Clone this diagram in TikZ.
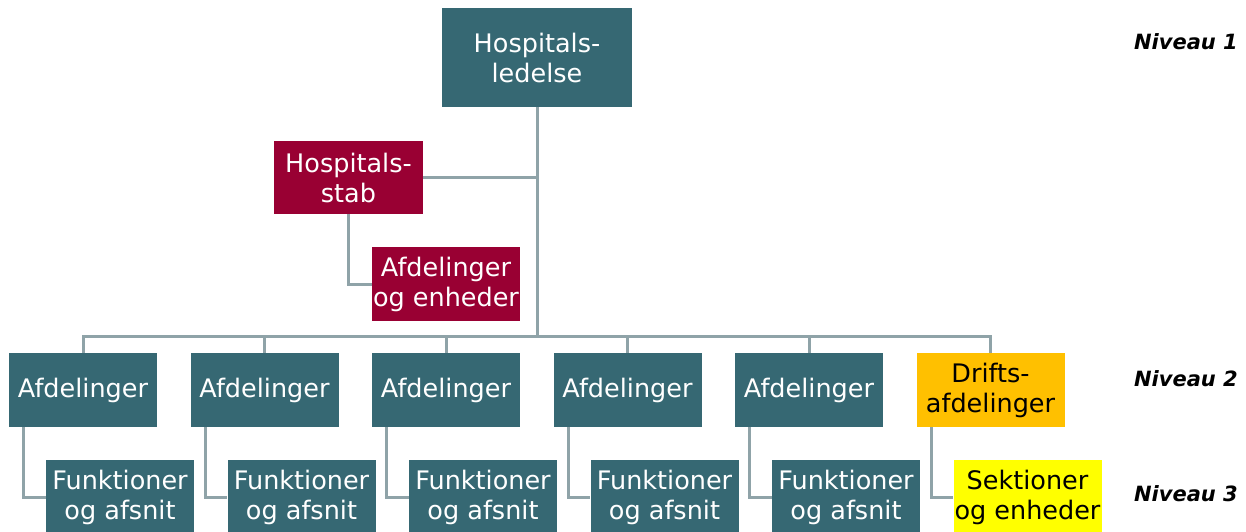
\documentclass[tikz,border=0pt]{standalone}
\usepackage{fontspec}
\setmainfont{DejaVu Sans}
\usetikzlibrary{positioning}
\definecolor{hosteal}{RGB}{54,104,115}
\definecolor{hosred}{RGB}{153,0,51}
\definecolor{hosorange}{RGB}{255,192,0}
\definecolor{hosyellow}{RGB}{255,255,0}
\definecolor{hosline}{RGB}{143,163,168}

\begin{document}
\begin{tikzpicture}[x=1pt,y=-1pt,
        box/.style={rectangle, minimum width=148pt, minimum height=74pt,
            inner sep=0pt, align=center, font=\fontsize{25.5}{30}\selectfont},
        tealbox/.style={box, fill=hosteal, text=white},
        redbox/.style={box, fill=hosred, text=white},
        orangebox/.style={box, fill=hosorange, text=black},
        yellowbox/.style={box, fill=hosyellow, text=black},
        link/.style={draw=hosline, line width=3pt},
        niveau/.style={anchor=east, inner sep=0pt, font=\fontsize{21}{25}\selectfont\bfseries\itshape}]
    \useasboundingbox (0,0) rectangle (1246,531);
    % top
    \node[tealbox, minimum width=190pt, minimum height=99pt] (ledelse) at (537,57.5) {Hospitals-\\ledelse};
    \node[redbox, minimum width=149pt, minimum height=73pt] (stab) at (348.5,177.5) {Hospitals-\\stab};
    \node[redbox] (stabafd) at (446,284) {Afdelinger\\og enheder};
    \coordinate (bus) at (537,336);
    \draw[link] (ledelse.south) -- (bus);
    \draw[link] (stab.east) -- (stab.east -| ledelse.south);
    \draw[link] (stab.south) |- (stabafd.west);
    % niveau 2 and 3
    \foreach \X in {1,...,5}
        {\node[tealbox] (afd\X) at ({83+181.5*(\X-1)},390) {Afdelinger};
         \node[tealbox] (fun\X) at ({120+181.5*(\X-1)},497) {Funktioner\\og afsnit};
         \draw[link] ([xshift=15pt]afd\X.south west) |- (fun\X.west);
         \ifnum\X>1
            \draw[link] (afd\X.north) -- (afd\X.north |- bus);
         \fi
        }
    \node[orangebox] (drift) at (990.5,390) {Drifts-\\afdelinger};
    \node[yellowbox] (sektion) at (1027.5,497) {Sektioner\\og enheder};
    \draw[link] ([xshift=15pt]drift.south west) |- (sektion.west);
    \draw[link] (afd1.north) -- (afd1.north |- bus) -- (drift.north |- bus) -- (drift.north);
    % labels
    \node[niveau] (niv1) at (1238,42) {Niveau 1};
    \node[niveau] (niv2) at (1238,379) {Niveau 2};
    \node[niveau] (niv3) at (1238,494) {Niveau 3};
\end{tikzpicture}
\end{document}
